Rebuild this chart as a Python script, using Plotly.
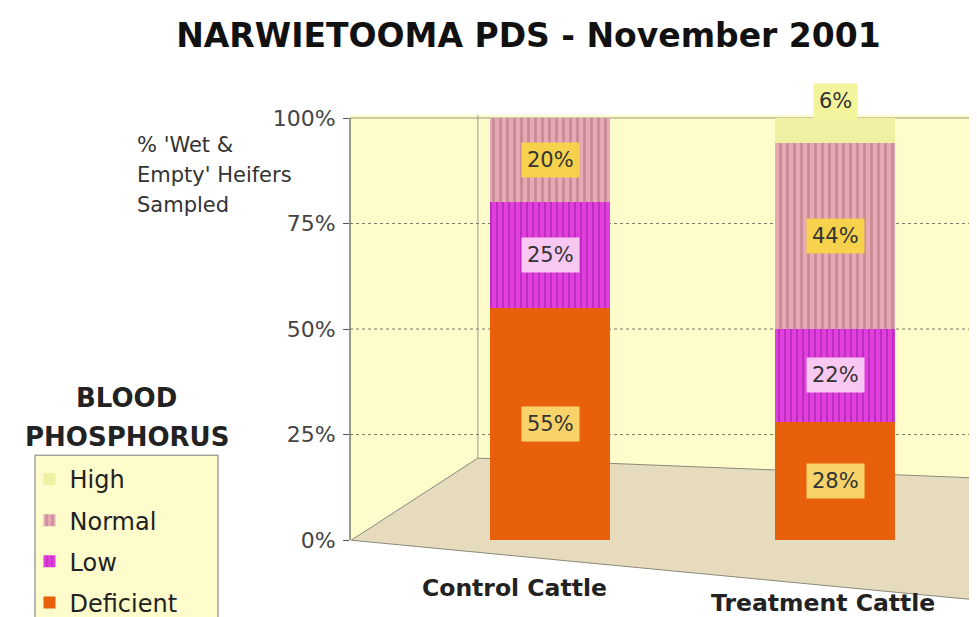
import plotly.graph_objects as go

# ---------------- data ----------------
categories = ["Control Cattle", "Treatment Cattle"]
deficient = [55, 28]
low = [25, 22]
normal = [20, 44]
high = [0, 6]
y_ticks = [0, 25, 50, 75, 100]
y_tick_labels = ["0%", "25%", "50%", "75%", "100%"]
series_names = ["Deficient", "Low", "Normal", "High"]
axis_title_lines = ["% 'Wet &", "Empty' Heifers", "Sampled"]
legend_heading = ["BLOOD", "PHOSPHORUS"]

# ---------------- styles ----------------
FONT = "DejaVu Sans"
styles = {
    "Deficient": dict(color="#e8600c", pattern=None, label_bg="#f7d36a", rank=4),
    "Low": dict(color="#e23ee0", pattern=dict(shape="|", fgcolor="#9a1e98", size=6, solidity=0.35), label_bg="#f9c8f2", rank=3),
    "Normal": dict(color="#e7aab4", pattern=dict(shape="|", fgcolor="#a77078", size=7, solidity=0.4), label_bg="#f6d24c", rank=2),
    "High": dict(color="#f0f0a2", pattern=None, label_bg="#f4f49c", rank=1),
}
values = {"Deficient": deficient, "Low": low, "Normal": normal, "High": high}

x_pos = list(range(len(categories)))

fig = go.Figure()
for name in series_names:
    st = styles[name]
    marker = dict(color=st["color"], line=dict(width=0))
    if st["pattern"]:
        marker["pattern"] = st["pattern"]
    fig.add_trace(go.Bar(
        x=x_pos, y=values[name], name=name, width=0.42,
        marker=marker, legendgroup=name, legendrank=st["rank"],
        hoverinfo="skip",
    ))

# data labels
annotations = []
for ci in x_pos:
    base = 0
    for name in series_names:
        v = values[name][ci]
        if v > 0:
            small = v < 10
            annotations.append(dict(
                x=ci, y=base + v / 2, xref="x", yref="y",
                text=f"{v}%", showarrow=False,
                font=dict(family=FONT, size=21, color="#333"),
                bgcolor=styles[name]["label_bg"], borderpad=5,
                yshift=30 if small else 0,
            ))
        base += v

# category labels (staggered as in the original)
cat_shifts = [(-36, 12), (-12, -3)]
for ci, cat in zip(x_pos, categories):
    xs, ys = cat_shifts[ci]
    annotations.append(dict(
        x=ci, y=0, xref="x", yref="paper", text=f"<b>{cat}</b>",
        showarrow=False, xshift=xs, yshift=ys, yanchor="middle",
        font=dict(family=FONT, size=23.5, color="#222"),
    ))

# axis title (three lines)
for line, yy in zip(axis_title_lines, (0.936, 0.874, 0.813)):
    annotations.append(dict(
        x=-0.343, y=yy, xref="paper", yref="paper", text=line,
        showarrow=False, xanchor="left", yanchor="middle", align="left",
        font=dict(family=FONT, size=21, color="#333"),
    ))
# legend heading
for txt, yy in zip(legend_heading, (0.4156, 0.3354)):
    annotations.append(dict(
        x=-0.356, y=yy, xref="paper", yref="paper",
        text=f"<b>{txt}</b>",
        showarrow=False, xanchor="center", yanchor="middle",
        font=dict(family=FONT, size=26, color="#222"),
    ))

shapes = []
# walls (back + side)
shapes.append(dict(
    type="path", xref="paper", yref="paper", layer="below",
    path="M 0 0.123 L 0 0.998 L 1 0.998 L 1 0.251 L 0.204 0.292 Z",
    fillcolor="#fdfcca", line=dict(width=0),
))
# floor
shapes.append(dict(
    type="path", xref="paper", yref="paper", layer="below",
    path="M 0.002 0.123 L 0.204 0.292 L 1 0.251 L 1 0 Z",
    fillcolor="#e7dbbd", line=dict(color="#8a8a7a", width=1),
))
# back wall corner
shapes.append(dict(
    type="line", xref="paper", yref="paper", layer="below",
    x0=0.204, x1=0.204, y0=0.292, y1=0.998,
    line=dict(color="#9a9a8a", width=1),
))
# gridlines
for v in y_ticks[1:-1]:
    shapes.append(dict(
        type="line", xref="paper", yref="y", layer="below",
        x0=0, x1=1, y0=v, y1=v,
        line=dict(color="#7a7a6a", width=1, dash="dot"),
    ))
# top edge of wall
shapes.append(dict(
    type="line", xref="paper", yref="y", layer="below",
    x0=0, x1=1, y0=y_ticks[-1], y1=y_ticks[-1],
    line=dict(color="#9a9a8a", width=1),
))
# y axis line
shapes.append(dict(
    type="line", xref="paper", yref="y",
    x0=0, x1=0, y0=y_ticks[0], y1=y_ticks[-1],
    line=dict(color="#555", width=1.2),
))
# legend box
shapes.append(dict(
    type="rect", xref="paper", yref="paper",
    x0=-0.5024, x1=-0.2105, y0=-0.08, y1=0.298,
    fillcolor="#fdfcca", line=dict(color="#777", width=1),
))

fig.update_layout(
    width=977, height=617,
    margin=dict(l=342, r=8, t=106, b=25, autoexpand=False),
    barmode="stack",
    paper_bgcolor="white",
    plot_bgcolor="white",
    font=dict(family=FONT),
    title=dict(
        text="<b>NARWIETOOMA PDS - November 2001</b>",
        x=0.5327, xanchor="center", xref="container",
        y=1 - 27 / 617, yanchor="middle", yref="container",
        font=dict(family=FONT, size=33, color="#111"),
    ),
    xaxis=dict(range=[-0.702, 1.498], showticklabels=False, showgrid=False,
               zeroline=False, showline=False, ticks=""),
    yaxis=dict(range=[-14.2, 100.95], tickvals=y_ticks, ticktext=y_tick_labels,
               showgrid=False, zeroline=False, showline=False,
               ticks="outside", ticklen=6, tickcolor="#555",
               ticklabelstandoff=3,
               tickfont=dict(family=FONT, size=22, color="#444")),
    legend=dict(
        x=0.022, y=0.2725, xref="container", yref="container",
        xanchor="left", yanchor="top",
        bgcolor="rgba(0,0,0,0)", borderwidth=0,
        font=dict(family=FONT, size=24, color="#222"),
        traceorder="grouped", tracegroupgap=7,
    ),
    annotations=annotations,
    shapes=shapes,
)

fig.write_html("out.html")
